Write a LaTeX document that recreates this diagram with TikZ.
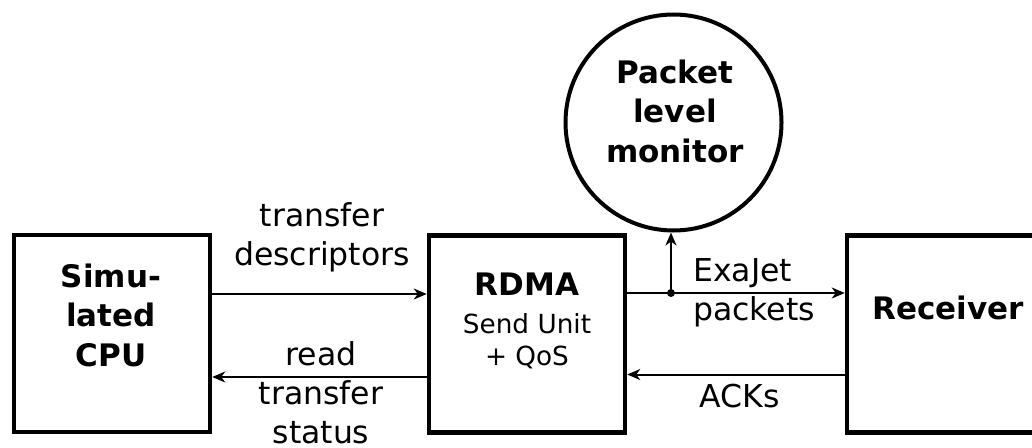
\documentclass[tikz,border=0pt]{standalone}
\usepackage{fontspec}
\setmainfont{DejaVu Sans}
\usetikzlibrary{arrows.meta}
\begin{document}
\begin{tikzpicture}[x=1pt, y=-1pt,
  block/.style={draw, line width=4.5pt, minimum width=196pt, minimum height=197pt, inner sep=0pt},
  monitor/.style={draw, circle, line width=4pt, minimum size=216pt, inner sep=0pt},
  link/.style={line width=2pt, -{Stealth[length=13pt, width=11pt, inset=4pt]}},
  txt/.style={font=\fontsize{31.5}{39}\selectfont, align=center, inner sep=0pt, anchor=base},
  boldtxt/.style={font=\fontsize{31}{39.5}\selectfont\bfseries, align=center, inner sep=0pt, anchor=base},
  smalltxt/.style={font=\fontsize{26.3}{32}\selectfont, align=center, inner sep=0pt, anchor=base}]
\clip (0,0) rectangle (1032,447);

% blocks
\node[block] (cpu) at (112,333.5) {};
\node[block] (rdma) at (527,334) {};
\node[block] (rcv) at (945,334) {};
\node[monitor] (mon) at (673.5,122.5) {};

% block captions (anchored at the baseline of the last line)
\node[boldtxt] (cpulbl) at (111,366) {Simu-\\lated\\CPU};
\node[boldtxt] (rdmalbl) at (527,295) {RDMA};
\node[smalltxt] (rdmasub) at (527,365) {Send Unit\\+ QoS};
\node[boldtxt] (rcvlbl) at (948,319) {Receiver};
\node[boldtxt] (monlbl) at (675,162) {Packet\\level\\monitor};

% connector rows
\coordinate (rowdesc) at (0,294);
\coordinate (rowread) at (0,377);
\coordinate (rowack) at (0,374.5);
\node[circle, fill, inner sep=0pt, minimum size=8pt] (tap) at (671,293) {};

% connectors
\draw[link] (cpu.east |- rowdesc) -- (rdma.west |- rowdesc);
\draw[link] (rdma.west |- rowread) -- (cpu.east |- rowread);
\draw[line width=2pt] (rdma.east |- tap) -- (tap.center);
\draw[link] (tap.center) -- (rcv.west |- tap);
\draw[link] (tap.center) -- (tap |- mon.south);
\draw[link] (rcv.west |- rowack) -- (rdma.east |- rowack);

% connector labels (anchored at the baseline of the last line)
\node[txt] (desclbl) at (322,265) {transfer\\descriptors};
\node[txt] (readlbl) at (321,443) {read\\transfer\\status};
\node[txt, anchor=base west, align=left] (pktlbl) at (693,320) {ExaJet\\packets};
\node[txt] (acklbl) at (740,407) {ACKs};
\end{tikzpicture}
\end{document}
